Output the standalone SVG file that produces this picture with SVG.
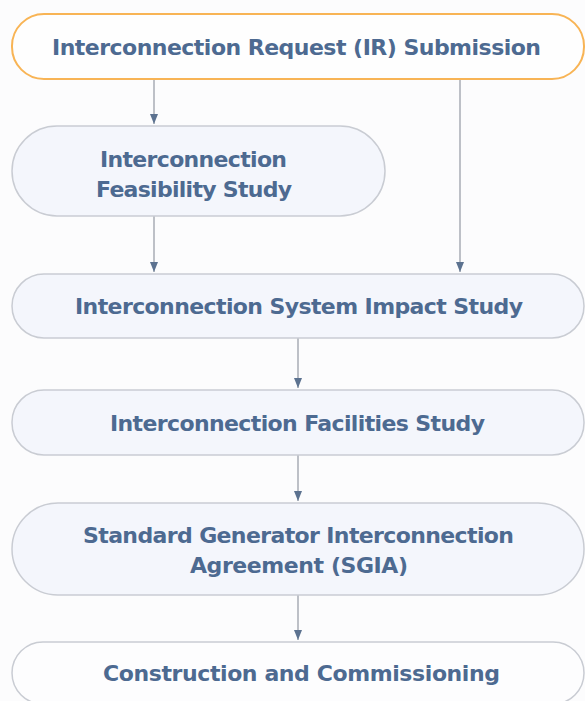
<svg xmlns="http://www.w3.org/2000/svg" width="585" height="701" viewBox="0 0 585 701">
<style>
.n{fill:#f4f6fc;stroke:#c9ccd3;stroke-width:1.5}
.w{fill:#fdfdfe;stroke:#c9ccd3;stroke-width:1.5}
.o{fill:#fefefe;stroke:#f8b455;stroke-width:2}
.t{font-family:"DejaVu Sans","Liberation Sans",sans-serif;font-weight:bold;font-size:22px;fill:#4d6a91;text-anchor:middle}
.c{stroke:#a9adb4;stroke-width:1.5;fill:none}
</style>
<defs>
<marker id="a" viewBox="0 0 10 10" refX="10" refY="5" markerWidth="10" markerHeight="10" markerUnits="userSpaceOnUse" orient="auto">
<path d="M0,1 L10,5 L0,9 Z" fill="#5c7290"/>
</marker>
</defs>
<rect width="585" height="701" fill="#fcfcfd"/>
<g id="connectors">
<line class="c" x1="154" y1="79" x2="154" y2="124" marker-end="url(#a)"/>
<line class="c" x1="460" y1="79" x2="460" y2="272" marker-end="url(#a)"/>
<line class="c" x1="154" y1="216" x2="154" y2="272" marker-end="url(#a)"/>
<line class="c" x1="298" y1="338" x2="298" y2="388" marker-end="url(#a)"/>
<line class="c" x1="298" y1="455" x2="298" y2="501" marker-end="url(#a)"/>
<line class="c" x1="298" y1="595" x2="298" y2="640" marker-end="url(#a)"/>
</g>
<g id="n1"><rect class="o" x="12" y="14" width="572" height="65" rx="32"/>
<text class="t" x="296.5" y="55" textLength="489" lengthAdjust="spacing">Interconnection Request (IR) Submission</text></g>
<g id="n2"><rect class="n" x="12" y="126" width="373" height="90" rx="45"/>
<text class="t" x="193.5" y="167" textLength="187" lengthAdjust="spacing">Interconnection</text>
<text class="t" x="194" y="197" textLength="196" lengthAdjust="spacing">Feasibility Study</text></g>
<g id="n3"><rect class="n" x="12" y="274" width="572" height="64" rx="32"/>
<text class="t" x="299" y="314" textLength="448" lengthAdjust="spacing">Interconnection System Impact Study</text></g>
<g id="n4"><rect class="n" x="12" y="390" width="572" height="65" rx="32"/>
<text class="t" x="297.5" y="431" textLength="375" lengthAdjust="spacing">Interconnection Facilities Study</text></g>
<g id="n5"><rect class="n" x="12" y="503" width="572" height="92" rx="46"/>
<text class="t" x="298.5" y="543" textLength="431" lengthAdjust="spacing">Standard Generator Interconnection</text>
<text class="t" x="299" y="573" textLength="218" lengthAdjust="spacing">Agreement (SGIA)</text></g>
<g id="n6"><rect class="w" x="12" y="642" width="572" height="62" rx="31"/>
<text class="t" x="301.5" y="681" textLength="397" lengthAdjust="spacing">Construction and Commissioning</text></g>
</svg>
